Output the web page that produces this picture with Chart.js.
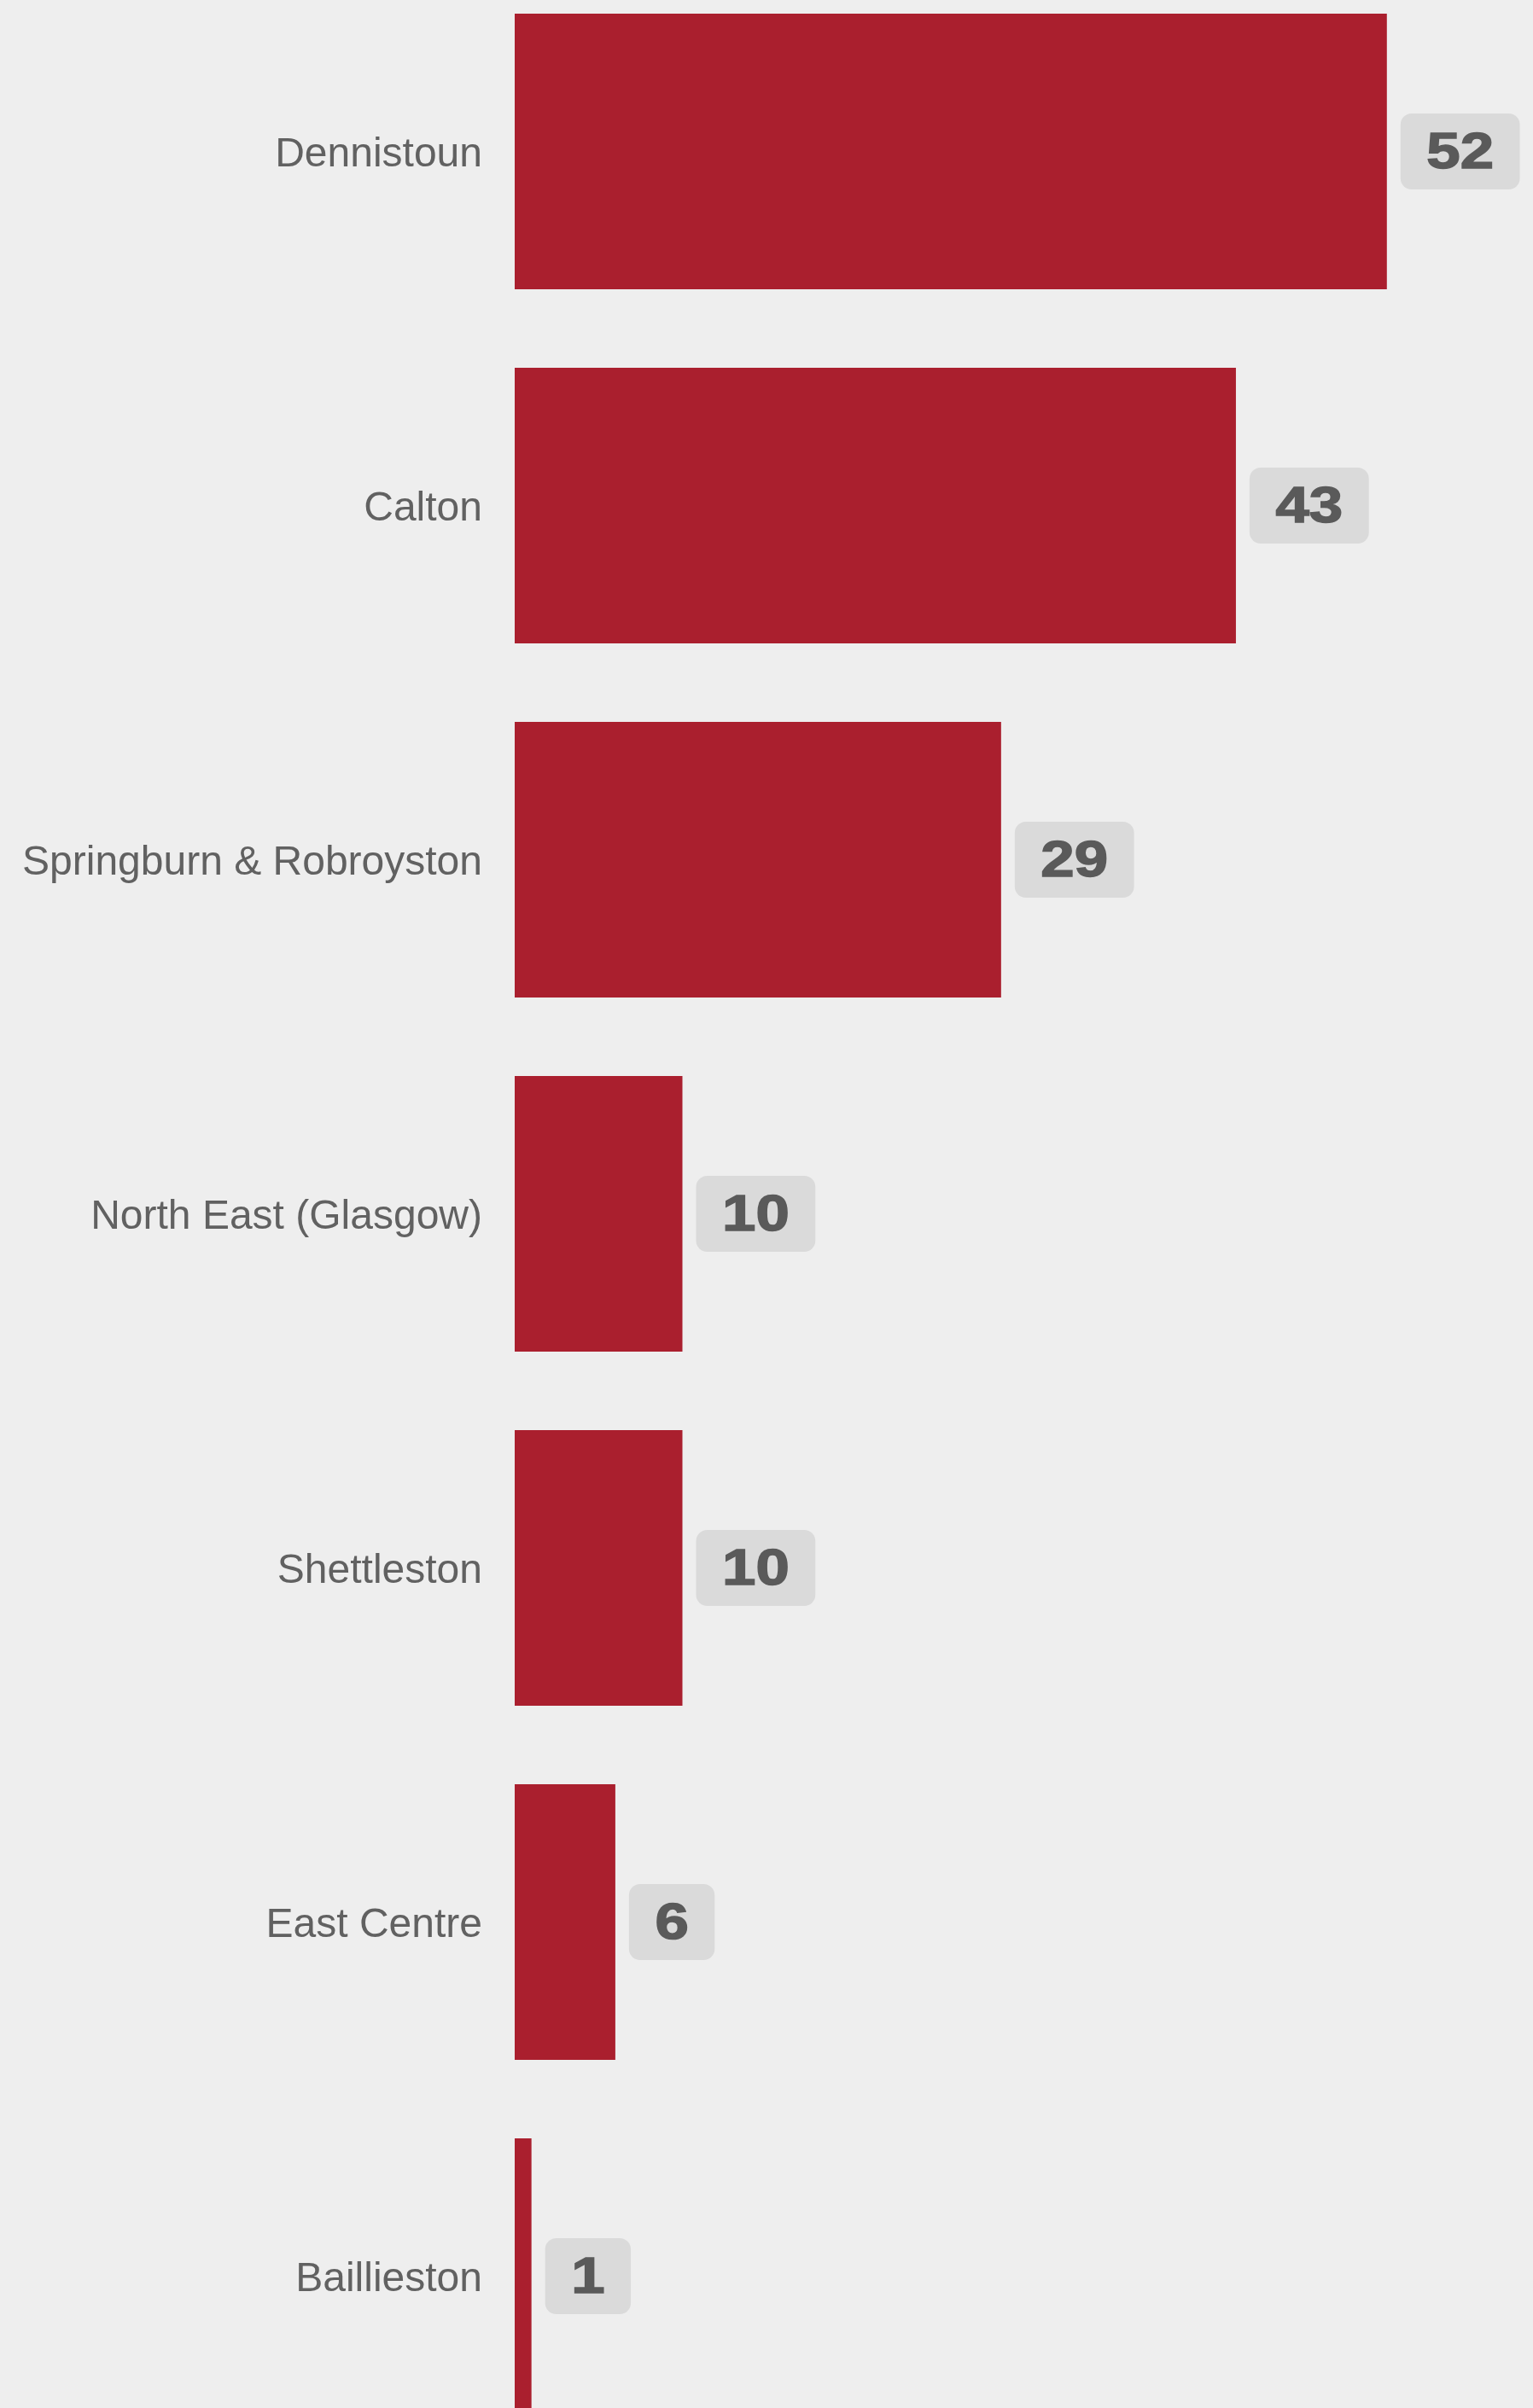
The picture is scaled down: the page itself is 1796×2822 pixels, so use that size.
<!DOCTYPE html>
<html>
<head>
<meta charset="utf-8">
<script src="https://cdn.jsdelivr.net/npm/chart.js@4/dist/chart.umd.min.js"></script>
<style>
html,body{margin:0;padding:0;background:#eeeeee;overflow:hidden;}
body{width:1796px;height:2822px;position:relative;}
#chart{position:absolute;left:0;top:-30px;}
</style>
</head>
<body>
<canvas id="chart" width="1796" height="2905"></canvas>
<script>
const areas = ["Dennistoun","Calton","Springburn & Robroyston","North East (Glasgow)","Shettleston","East Centre","Baillieston"];
const counts = [52,43,29,10,10,6,1];

/* value badges next to bar ends */
const badges = {
id:"badges",
afterDatasetsDraw(chart){
const ctx = chart.ctx;
const meta = chart.getDatasetMeta(0);
ctx.save();
ctx.font = "bold 60px Arial, 'Liberation Sans', sans-serif";
ctx.textBaseline = "middle";
ctx.textAlign = "center";
meta.data.forEach((bar,i)=>{
const txt = String(counts[i]);
const tw = ctx.measureText(txt).width*1.18;
const w = tw+61, h = 89;
const x = bar.x+16, y = bar.y-h/2;
ctx.fillStyle = "#dadada";
ctx.beginPath();
ctx.roundRect(x,y,w,h,13);
ctx.fill();
ctx.fillStyle = "#5a5a5a";
ctx.strokeStyle = "#5a5a5a";
ctx.lineWidth = 1.5;
ctx.save();
ctx.translate(x+w/2,bar.y+3);
ctx.scale(1.18,1);
ctx.fillText(txt,0,0);
ctx.strokeText(txt,0,0);
ctx.restore();
});
ctx.restore();
}
};

new Chart(document.getElementById("chart"),{
type:"bar",
data:{
labels:areas,
datasets:[{
data:counts,
backgroundColor:"#aa1f2e",
categoryPercentage:1,
barPercentage:0.778
}]
},
options:{
indexAxis:"y",
responsive:false,
animation:false,
devicePixelRatio:1,
layout:{padding:{left:0,right:14,top:0,bottom:0}},
plugins:{legend:{display:false},tooltip:{enabled:false}},
scales:{
x:{display:false,min:0,max:60},
y:{
grid:{display:false,drawTicks:false},
border:{display:false},
ticks:{color:"#616161",padding:38,labelOffset:4,font:{family:"Arial, 'Liberation Sans', sans-serif",size:48}},
afterFit(scale){scale.width=603;scale.paddingTop=0;scale.paddingBottom=0;}
}
}
},
plugins:[badges]
});
</script>
</body>
</html>
